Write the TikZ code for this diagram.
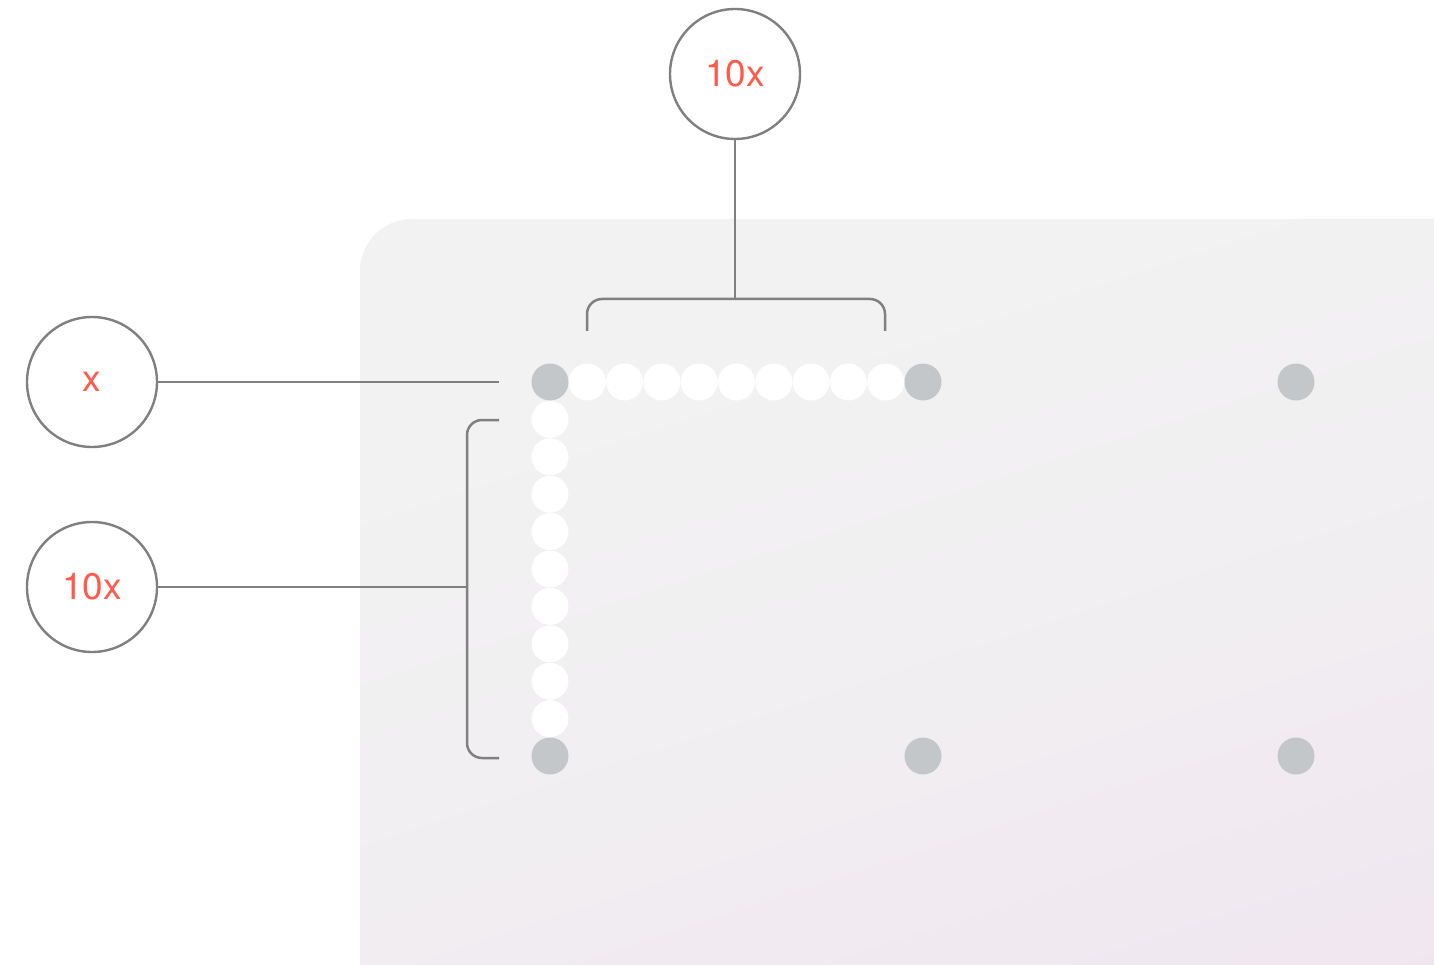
\documentclass[tikz,border=0pt]{standalone}
\usepackage{fontspec}
\setmainfont{TeX Gyre Heros}
\definecolor{lbl}{HTML}{FF5A4A}
\definecolor{ln}{HTML}{808080}
\definecolor{dotg}{HTML}{C4C7C9}
\definecolor{bgA}{HTML}{F2F2F2}
\definecolor{bgM}{HTML}{F1EEF1}
\definecolor{bgB}{HTML}{F0E6F0}
\pgfdeclareverticalshading{panelshade}{100bp}{color(0bp)=(bgB); color(22bp)=(bgB); color(45bp)=(bgM); color(68bp)=(bgA); color(100bp)=(bgA)}
\begin{document}
\begin{tikzpicture}[x=1pt,y=-1pt,
  callout/.style={circle,draw=ln,line width=2.4pt,fill=white,minimum size=130pt,inner sep=0pt,text=lbl,font=\fontsize{37}{40}\selectfont},
  gdot/.style={circle,fill=dotg,minimum size=37pt,inner sep=0pt},
  wdot/.style={circle,fill=white,minimum size=37pt,inner sep=0pt},
  conn/.style={draw=ln,line width=2.5pt}]
\useasboundingbox (0,0) rectangle (1434,965);
\fill[white] (0,0) rectangle (1434,965);
% panel
\begin{scope}
\clip (0,0) rectangle (1434,965);
\path[rounded corners=52, shading=panelshade, shading angle=18]
  (360,1025) -- (360,219) -- (1494,219) -- (1494,1025) -- cycle;
\end{scope}
% dots
\node[gdot] (g11) at (550,382) {};
\node[gdot] (g12) at (923,382) {};
\node[gdot] (g13) at (1296,382) {};
\node[gdot] (g21) at (550,756) {};
\node[gdot] (g22) at (923,756) {};
\node[gdot] (g23) at (1296,756) {};
\foreach \i in {1,...,9} {
  \node[wdot] (h\i) at (550+37.3*\i,382) {};
  \node[wdot] (v\i) at (550,382+37.4*\i) {};
}
% callouts
\node[callout] (top) at (735,74) {10x};
\node[callout] (cx) at (92,382) {x};
\node[callout] (c10) at (92,587) {10x};
% brackets
\coordinate (tb) at (735,299);
\coordinate (lx) at (499,382);
\coordinate (lb) at (467,587);
\draw[conn,rounded corners=15] (587,331) -- (587,299) -- (885,299) -- (885,331);
\draw[conn] (top.south) -- (tb);
\draw[conn] (cx.east) -- (lx);
\draw[conn,rounded corners=15] (499,420) -- (467,420) -- (467,758) -- (499,758);
\draw[conn] (c10.east) -- (lb);
\end{tikzpicture}
\end{document}
